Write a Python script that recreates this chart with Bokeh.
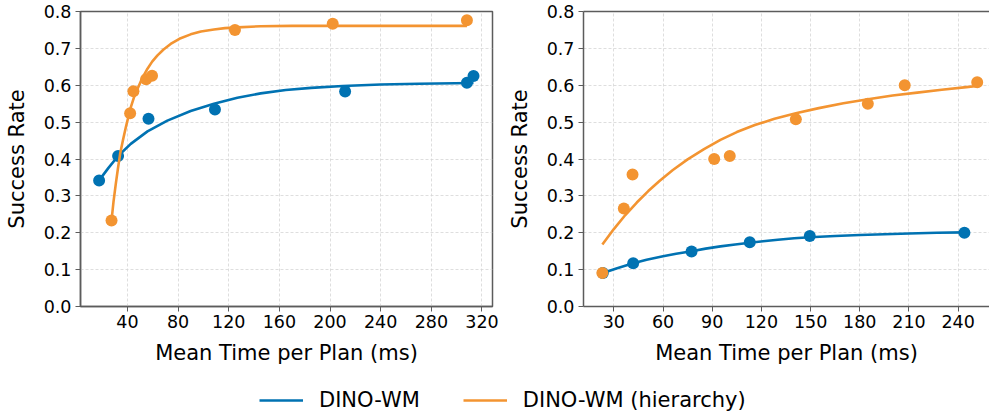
from bokeh.plotting import figure
from bokeh.models import FixedTicker, PrintfTickFormatter, Legend, LegendItem, LinearAxis, Range1d
from bokeh.layouts import column, row
from bokeh.embed import file_html
from bokeh.resources import INLINE

# ---------------- data ----------------
y_ticks = [0.0, 0.1, 0.2, 0.3, 0.4, 0.5, 0.6, 0.7, 0.8]
left_x_ticks = [40, 80, 120, 160, 200, 240, 280, 320]
right_x_ticks = [30, 60, 90, 120, 150, 180, 210, 240]

series_names = ["DINO-WM", "DINO-WM (hierarchy)"]

# left panel: measured points
left_blue_x = [17.6, 32.6, 56.6, 109.1, 211.9, 308.1, 313.3]
left_blue_y = [0.342, 0.408, 0.509, 0.534, 0.583, 0.607, 0.625]
left_orange_x = [27.4, 42.1, 44.7, 54.7, 59.4, 124.9, 202.1, 308.1]
left_orange_y = [0.233, 0.524, 0.584, 0.616, 0.626, 0.750, 0.767, 0.776]

# left panel: fitted curves
left_blue_fit_x = [17.6, 25, 32.6, 42.6, 55.8, 71.5, 89.9, 108.3, 126.8, 145.2, 165, 185, 210, 240, 270, 313.3]
left_blue_fit_y = [0.342, 0.376, 0.408, 0.441, 0.475, 0.504, 0.530, 0.550, 0.566, 0.578, 0.587, 0.593, 0.598, 0.602, 0.604, 0.606]
left_orange_fit_x = [27.4, 29, 30.8, 32.5, 34.2, 36.5, 38.7, 40.6, 42.6, 45, 47.9, 51.5, 55.8, 59.5, 63.7,
                     68.5, 74.1, 81, 89.9, 98, 108.3, 117, 126.8, 145.2, 170, 200, 250, 308.1]
left_orange_fit_y = [0.233, 0.285, 0.333, 0.375, 0.414, 0.452, 0.486, 0.513, 0.540, 0.566, 0.590, 0.618, 0.645, 0.664, 0.681,
                     0.697, 0.712, 0.726, 0.738, 0.746, 0.751, 0.755, 0.757, 0.760, 0.761, 0.761, 0.761, 0.761]

# right panel: measured points
right_blue_x = [23.3, 41.8, 77.4, 112.9, 149.5, 243.8]
right_blue_y = [0.091, 0.117, 0.149, 0.174, 0.191, 0.200]
right_orange_x = [23.0, 36.1, 41.4, 91.2, 100.7, 141.0, 184.9, 207.4, 251.6]
right_orange_y = [0.091, 0.266, 0.358, 0.400, 0.408, 0.508, 0.550, 0.600, 0.608]

# right panel: fitted curves
right_blue_fit_x = [23.3, 32, 41.8, 50, 60, 68, 77.4, 86, 95, 104, 112.9, 121, 130, 140, 149.5, 165, 180, 195, 210, 227, 243.8]
right_blue_fit_y = [0.091, 0.104, 0.117, 0.127, 0.136, 0.143, 0.150, 0.157, 0.163, 0.168, 0.173, 0.177, 0.181, 0.185, 0.188,
                    0.191, 0.194, 0.196, 0.198, 0.200, 0.201]
right_orange_fit_x = [23, 30, 37, 44, 51, 58, 66, 75, 85, 95, 105, 116, 128, 141, 155, 170, 185, 200, 215, 230, 245, 251.6]
right_orange_fit_y = [0.168, 0.210, 0.248, 0.282, 0.313, 0.341, 0.370, 0.399, 0.427, 0.452, 0.473, 0.492, 0.509, 0.524,
                      0.538, 0.551, 0.562, 0.572, 0.580, 0.588, 0.595, 0.598]

BLUE = "#0072B2"
ORANGE = "#F39431"
SPINE = "#5c5c5c"
FONT = "DejaVu Sans"


def style(p, xticks):
    p.xaxis.ticker = FixedTicker(ticks=xticks)
    p.yaxis.ticker = FixedTicker(ticks=y_ticks)
    p.yaxis.formatter = PrintfTickFormatter(format="%.1f")
    for ax in [p.xaxis[0], p.yaxis[0]]:
        ax.axis_line_color = SPINE
        ax.axis_line_width = 1.5
        ax.major_tick_line_color = SPINE
        ax.major_tick_line_width = 1
        ax.major_tick_out = 5
        ax.major_tick_in = 0
        ax.minor_tick_line_color = None
        ax.major_label_text_font = FONT
        ax.major_label_text_font_size = "17.5px"
        ax.major_label_text_color = "black"
        ax.axis_label_text_font = FONT
        ax.axis_label_text_font_size = "21px"
        ax.axis_label_text_font_style = "normal"
        ax.axis_label_text_color = "black"
    p.xaxis.axis_label = "Mean Time per Plan (ms)"
    p.yaxis.axis_label = "Success Rate"
    p.xaxis.major_label_standoff = 3
    p.yaxis.major_label_standoff = 4
    p.xaxis.axis_label_standoff = 10
    p.yaxis.axis_label_standoff = 12
    p.grid.grid_line_color = "#d6d6d6"
    p.grid.grid_line_dash = "3 2"
    p.grid.grid_line_width = 0.8
    p.background_fill_color = "white"
    p.border_fill_color = "white"


def draw(p, bx, by, bfx, bfy, ox, oy, ofx, ofy):
    p.line(bfx, bfy, line_color=BLUE, line_width=2.6, line_join="round")
    p.scatter(bx, by, size=12, fill_color=BLUE, line_color=None)
    p.line(ofx, ofy, line_color=ORANGE, line_width=2.6, line_join="round")
    p.scatter(ox, oy, size=12, fill_color=ORANGE, line_color=None)


# left panel
p1 = figure(width=500, height=375, x_range=Range1d(2.9, 328.3), y_range=Range1d(0, 0.8),
            output_backend="svg", toolbar_location=None,
            min_border_left=80, min_border_right=8, min_border_top=11, min_border_bottom=69)
style(p1, left_x_ticks)
p1.outline_line_color = SPINE
p1.outline_line_width = 1.5
p1.outline_line_alpha = 1.0
draw(p1, left_blue_x, left_blue_y, left_blue_fit_x, left_blue_fit_y,
     left_orange_x, left_orange_y, left_orange_fit_x, left_orange_fit_y)

# right panel (its right spine falls outside the picture)
p2 = figure(width=489, height=375, x_range=Range1d(11.5, 259.1), y_range=Range1d(0, 0.8),
            output_backend="svg", toolbar_location=None,
            min_border_left=83, min_border_right=0, min_border_top=11, min_border_bottom=69)
style(p2, right_x_ticks)
p2.outline_line_color = None
top = LinearAxis(ticker=FixedTicker(ticks=[]), axis_line_color=SPINE, axis_line_width=1.5,
                 major_tick_line_color=None, minor_tick_line_color=None,
                 major_label_text_font_size="0px")
p2.add_layout(top, "above")
draw(p2, right_blue_x, right_blue_y, right_blue_fit_x, right_blue_fit_y,
     right_orange_x, right_orange_y, right_orange_fit_x, right_orange_fit_y)

# legend strip (legend renderers hold points outside the visible range)
p3 = figure(width=989, height=38, x_range=Range1d(0, 1), y_range=Range1d(0, 1),
            output_backend="svg", toolbar_location=None,
            x_axis_location=None, y_axis_location=None,
            min_border=0)
p3.grid.visible = False
p3.outline_line_color = None
r1 = p3.line([-5, -4], [-5, -5], line_color=BLUE, line_width=2.6)
r2 = p3.line([-5, -4], [-5, -5], line_color=ORANGE, line_width=2.6)
leg = Legend(items=[LegendItem(label=series_names[0], renderers=[r1]),
                    LegendItem(label=series_names[1], renderers=[r2])],
             orientation="horizontal", location=(259, 1),
             glyph_width=44, glyph_height=24, label_height=24, label_standoff=16, spacing=43,
             padding=0, margin=0, border_line_color=None, background_fill_alpha=0,
             label_text_font=FONT, label_text_font_size="21px", label_text_color="black")
p3.add_layout(leg, "center")

layout = column(row(p1, p2), p3)
open("out.html", "w").write(file_html(layout, INLINE))
